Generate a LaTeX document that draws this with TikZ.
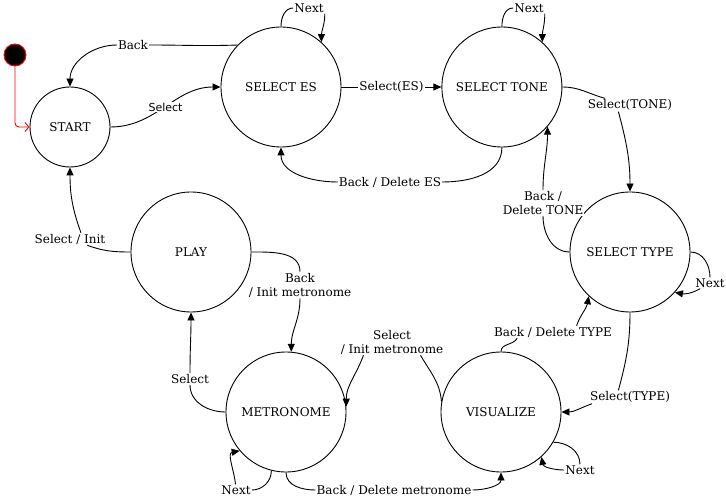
\documentclass[tikz,border=0pt]{standalone}
\usepackage{fontspec}
\setmainfont{DejaVu Serif}
\newfontfamily\labelsans{DejaVu Sans}
\usetikzlibrary{arrows.meta,positioning}

\begin{document}
\begin{tikzpicture}[x=1pt, y=1pt, font=\fontsize{12}{14}\selectfont,
    state/.style={circle, draw, line width=0.9pt, minimum size=120pt, inner sep=0pt},
    lbl/.style={fill=white, inner sep=1pt, align=center},
    trans/.style={line width=0.9pt, -{Triangle[length=8pt,width=7pt]}}]
    \useasboundingbox (0,0) rectangle (726,-497);

    % États
    \node[circle, draw=red, fill=black, line width=0.9pt, minimum size=22pt, inner sep=0pt] (init) at (15,-55) {};
    \node[state, minimum size=80pt] (start) at (70,-127) {START};
    \node[state] (es) at (281,-87) {SELECT ES};
    \node[state, right=100pt of es] (tone) {SELECT TONE};
    \node[state] (type) at (630,-252) {SELECT TYPE};
    \node[state] (vis) at (501,-412) {VISUALIZE};
    \node[state] (metro) at (286,-412) {METRONOME};
    \node[state] (play) at (191,-252) {PLAY};

    % Étiquettes
    \node[lbl] (lblback) at (133,-45) {Back};
    \node[lbl] (lblnexta) at (309,-8) {Next};
    \node[lbl] (lbldeles) at (390,-182) {Back / Delete ES};
    \node[lbl] (lblnextb) at (529,-8) {Next};
    \node[lbl] (lblseltone) at (630,-105) {Select(TONE)};
    \node[lbl] (lbldeltone) at (543,-203) {Back /\\Delete TONE};
    \node[lbl] (lblnextc) at (710,-283) {Next};
    \node[lbl] (lblseltype) at (630,-397) {Select(TYPE)};
    \node[lbl] (lbldeltype) at (553,-332) {Back / Delete TYPE};
    \node[lbl] (lblnextd) at (580,-470) {Next};
    \node[lbl] (lbldelmet) at (394,-490) {Back / Delete metronome};
    \node[lbl] (lblinitmet) at (392,-342) {Select\\/ Init metronome};
    \node[lbl] (lblnexte) at (236,-490) {Next};
    \node[lbl] (lblselplay) at (190,-379) {Select};
    \node[lbl] (lblbackplay) at (300,-285) {Back\\/ Init metronome};
    \node[lbl] (lblselinit) at (70,-239) {Select / Init};

    % Transitions
    \draw[red, line width=0.9pt, rounded corners=4pt, -{Straight Barb[length=4pt,width=9pt]}] (init.south) |- (start.west);
    \draw[trans] (es.136) to[out=182,in=0] (lblback) to[out=180,in=90] (start.north);
    \draw[trans] (start.east) to[out=0,in=180] node[lbl, font=\labelsans\fontsize{11}{13}\selectfont] (lblsel) {Select} (es.west);
    \draw[trans] (es.north) to[out=90,in=180] (lblnexta) (lblnexta.south east) to[out=-90,in=90] (es.48);
    \draw[trans] (es) -- node[lbl] (lblseles) {Select(ES)} (tone);
    \draw[trans] (tone.south) to[out=-90,in=0] (lbldeles) to[out=180,in=-90] (es.south);
    \draw[trans] (tone.north) to[out=90,in=180] (lblnextb) (lblnextb.south east) to[out=-90,in=90] (tone.48);
    \draw[trans] (tone.east) to[out=0,in=165] (lblseltone) (lblseltone.-150) to[out=-75,in=90] (type.north);
    \draw[trans] (type.west) to[out=180,in=-90] (lbldeltone) to[out=90,in=-90] (tone.-41);
    \draw[trans] (type.east) to[out=0,in=90] (lblnextc) to[out=-150,in=-10] (type.-42);
    \draw[trans] (type.south) to[out=-90,in=75] (lblseltype.150) (lblseltype.190) to[out=200,in=0] (vis.east);
    \draw[trans] (vis.north) to[out=90,in=-120] (lbldeltype.-170) (lbldeltype.15) to[out=70,in=-100] (type.227);
    \draw[trans] (vis.-30) to[out=0,in=90] (lblnextd) to[out=180,in=-80] (vis.-48);
    \draw[trans] (metro.south) to[out=-90,in=180] (lbldelmet) to[out=0,in=-90] (vis.south);
    \draw[trans] (vis.170) to[out=95,in=-60] (lblinitmet.-25) (lblinitmet.-155) to[out=-110,in=90] (metro.5);
    \draw[trans] (metro.256) to[out=-90,in=0] (lblnexte) to[out=95,in=190] (metro.220);
    \draw[trans] (metro.west) to[out=180,in=-90] (lblselplay) to[out=90,in=-90] (play.south);
    \draw[trans] (play.east) to[out=0,in=90] (lblbackplay) to[out=-90,in=90] (metro.85);
    \draw[trans] (play.west) to[out=180,in=-20] (lblselinit) (lblselinit.30) to[out=110,in=-90] (start.south);
\end{tikzpicture}
\end{document}
